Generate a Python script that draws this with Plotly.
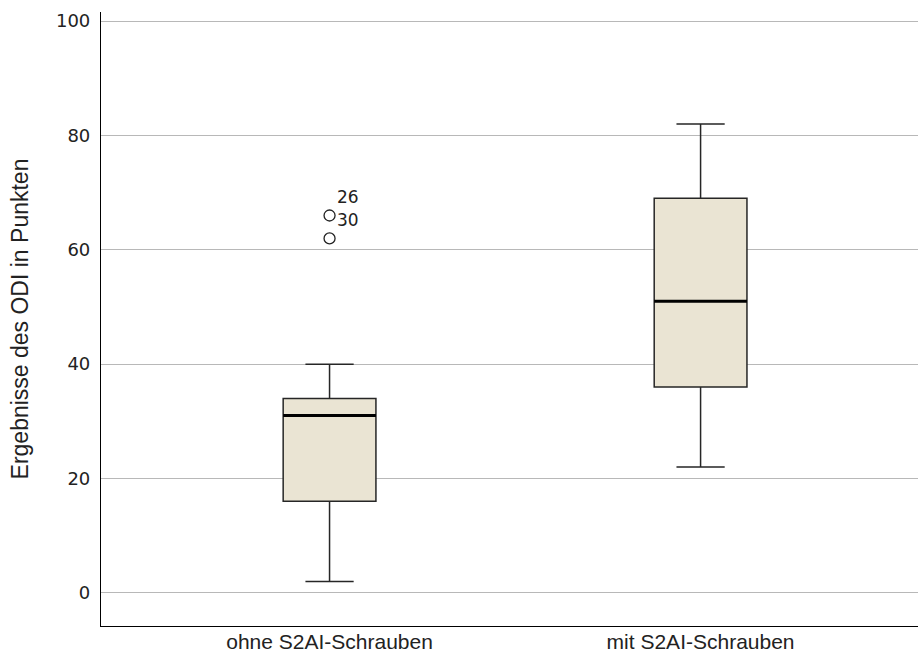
import plotly.graph_objects as go

categories = ["ohne S2AI-Schrauben", "mit S2AI-Schrauben"]
lower_whisker = [2, 22]
q1 = [16, 36]
median = [31, 51]
q3 = [34, 69]
upper_whisker = [40, 82]

outlier_cat = ["ohne S2AI-Schrauben", "ohne S2AI-Schrauben"]
outlier_val = [66, 62]
outlier_labels = [["26", "30"], []]

box_fill = "#EAE4D3"
box_line = "#262626"

fig = go.Figure()
fig.add_trace(go.Box(
    x=categories,
    q1=q1, median=median, q3=q3,
    lowerfence=lower_whisker, upperfence=upper_whisker,
    fillcolor=box_fill,
    line=dict(color=box_line, width=1.5),
    width=0.25,
    whiskerwidth=0.52,
    boxpoints=False,
    hoverinfo="skip",
    showlegend=False,
))

fig.add_trace(go.Scatter(
    x=outlier_cat, y=outlier_val, mode="markers",
    marker=dict(symbol="circle-open", size=11, color="#222", line=dict(width=1.3)),
    showlegend=False, hoverinfo="skip",
))

# thick median lines
for i, m in enumerate(median):
    fig.add_shape(type="line", xref="x", yref="y",
                  x0=i - 0.125, x1=i + 0.125, y0=m, y1=m,
                  line=dict(color="black", width=3))

# outlier case labels
for val, labels in zip(outlier_val, outlier_labels):
    for k, lab in enumerate(labels):
        fig.add_annotation(
            x=outlier_cat[0], y=val, text=lab, showarrow=False,
            xanchor="left", yanchor="middle",
            xshift=5, yshift=-4 + 23 * (len(labels) - 1 - k),
            font=dict(family="DejaVu Sans", size=17, color="#222"),
        )

fig.update_layout(
    width=918, height=655,
    margin=dict(l=101, r=0, t=12, b=29, autoexpand=False),
    paper_bgcolor="white", plot_bgcolor="white",
    xaxis=dict(
        type="category", range=[-0.616, 1.586],
        showline=True, linecolor="black", linewidth=1.2,
        showgrid=False, ticks="", mirror=False,
        ticklabelstandoff=-3,
        tickfont=dict(family="Liberation Sans", size=21, color="#222"),
        automargin=False,
    ),
    yaxis=dict(
        range=[-5.8, 101.6], tickvals=[0, 20, 40, 60, 80, 100],
        showline=True, linecolor="black", linewidth=1.2,
        showgrid=True, gridcolor="#b8b8b8", gridwidth=1.2,
        zeroline=False,
        ticks="",
        ticklabelstandoff=6,
        tickfont=dict(family="DejaVu Sans", size=18, color="#222"),
        title=dict(text="Ergebnisse des ODI in Punkten", standoff=20,
                   font=dict(family="Liberation Sans", size=23, color="#222")),
        automargin=False,
    ),
)

fig.write_html("out.html", config={"displayModeBar": False},
               post_script="document.body.style.margin='0';")
